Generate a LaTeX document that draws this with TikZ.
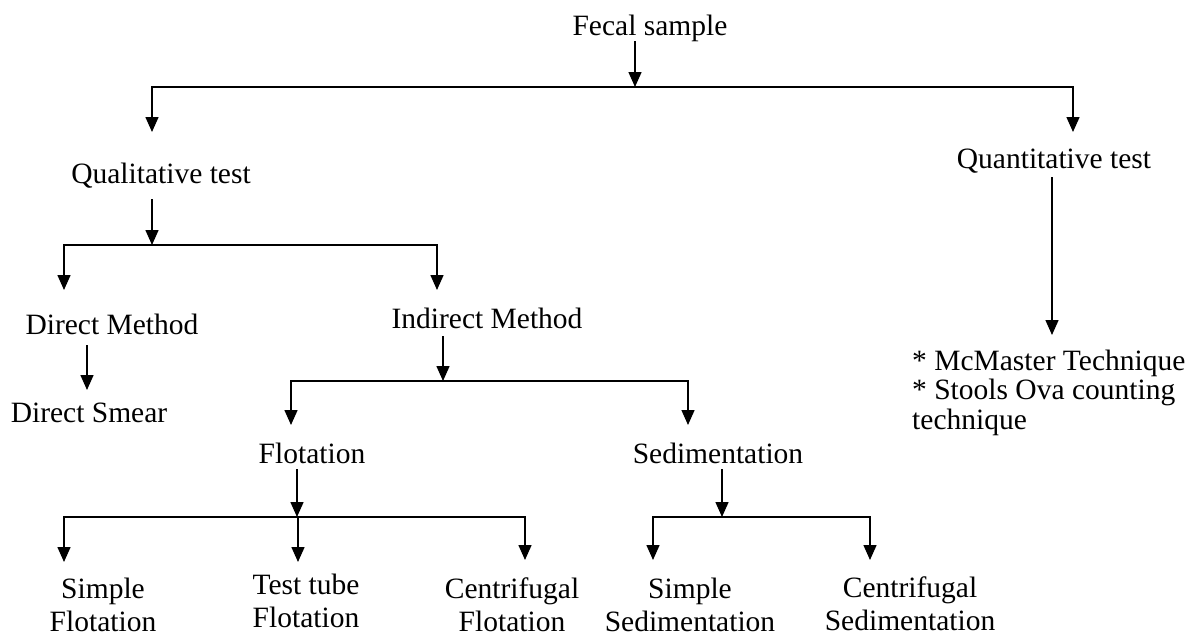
\documentclass[tikz,border=0pt]{standalone}
\usepackage{fontspec}
\setmainfont{Liberation Serif}
\usetikzlibrary{arrows.meta}
\begin{document}
\begin{tikzpicture}[x=1pt,y=-1pt,
  lbl/.style={inner sep=0pt,anchor=base,font={\fontsize{29.5}{31.5}\selectfont},text height=20pt,text depth=6pt},
  lbl2/.style={inner sep=0pt,anchor=base,align=center,font={\fontsize{29.5}{32.5}\selectfont}},
  ln/.style={line width=1.5pt,line join=miter},
  arr/.style={ln,-{Triangle[width=13pt,length=15pt]}}]
\fill[white] (0,0) rectangle (1192,637);
\useasboundingbox (0,0) rectangle (1192,637);
% nodes
\node[lbl] (fecal) at (650,35) {Fecal sample};
\node[lbl] (qual) at (161,183) {Qualitative test};
\node[lbl] (quan) at (1054,168) {Quantitative test};
\node[lbl] (dm) at (112,334) {Direct Method};
\node[lbl] (im) at (487,328) {Indirect Method};
\node[lbl] (ds) at (89,422) {Direct Smear};
\node[lbl] (flo) at (312,463) {Flotation};
\node[lbl] (sed) at (718,463) {Sedimentation};
\node[lbl2] (sf) at (103,631) {Simple\\Flotation};
\node[lbl2] (ttf) at (306,627) {Test tube\\Flotation};
\node[lbl2] (cf) at (512,631) {Centrifugal\\Flotation};
\node[lbl2] (ss) at (690,631) {Simple\\Sedimentation};
\node[lbl2] (cs) at (910,630) {Centrifugal\\Sedimentation};
\node[inner sep=0pt,anchor=base west,align=left,font={\fontsize{29.5}{29.5}\selectfont}] (mc) at (912,429) {* McMaster Technique\\* Stools Ova counting\\technique};
% junctions and arrow tips
\coordinate (j0) at (635,87);
\coordinate (qualin) at (152,132);
\coordinate (quanin) at (1073,132);
\coordinate (jq) at (152,245);
\coordinate (dmin) at (64,290);
\coordinate (imin) at (437,290);
\coordinate (dsin) at (87,390);
\coordinate (ji) at (443,381);
\coordinate (floin) at (291,425);
\coordinate (sedin) at (688,425);
\coordinate (jf) at (297,517);
\coordinate (sfin) at (64,562);
\coordinate (ttfin) at (298,562);
\coordinate (cfin) at (525,560);
\coordinate (js) at (722,517);
\coordinate (ssin) at (653,560);
\coordinate (csin) at (870,560);
\coordinate (mcin) at (1052,335);
% connectors
\draw[arr] (fecal.south -| j0) -- (j0);
\draw[arr] (j0) -| (qualin);
\draw[arr] (j0) -| (quanin);
\draw[arr] ([yshift=-10pt]qual.south -| jq) -- (jq);
\draw[arr] (jq) -| (dmin);
\draw[arr] (jq) -| (imin);
\draw[arr] ([yshift=-5pt]dm.south -| dsin) -- (dsin);
\draw[arr] ([yshift=-2pt]im.south -| ji) -- (ji);
\draw[arr] (ji) -| (floin);
\draw[arr] (ji) -| (sedin);
\draw[arr] (flo.south -| jf) -- (jf);
\draw[arr] (jf) -| (sfin);
\draw[arr] (jf) -| (ttfin);
\draw[arr] (jf) -| (cfin);
\draw[arr] (sed.south -| js) -- (js);
\draw[arr] (js) -| (ssin);
\draw[arr] (js) -| (csin);
\draw[arr] ([yshift=-3pt]quan.south -| mcin) -- (mcin);
\end{tikzpicture}
\end{document}
